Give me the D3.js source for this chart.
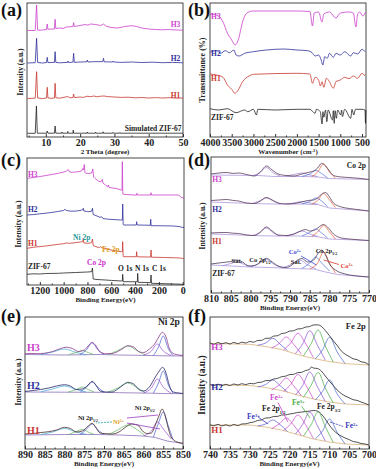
<!DOCTYPE html>
<html>
<head>
<meta charset="utf-8">
<script src="https://cdn.jsdelivr.net/npm/d3@7"></script>
<style>
  body { margin: 0; background: #fff; }
  svg { display: block; }
  text { font-family: "Liberation Serif", "DejaVu Serif", serif; font-weight: bold; }
</style>
</head>
<body>
<div id="chart"></div>
<script>
// ---- tick labels ----
const xrdTicks = [10, 20, 30, 40, 50];
const ftirTicks = [4000, 3500, 3000, 2500, 2000, 1500, 1000, 500];
const surveyTicks = [1200, 1000, 800, 600, 400, 200, 0];
const co2pTicks = [810, 805, 800, 795, 790, 785, 780, 775, 770];
const ni2pTicks = [890, 885, 880, 875, 870, 865, 860, 855, 850];
const fe2pTicks = [740, 735, 730, 725, 720, 715, 710, 705, 700];

// ---- (a) XRD, [2theta, intensity a.u.] ----
const xrdSim = [[4.6,3.7],[6.9,3.7],[7.25,31],[7.5,3.8],[10.2,3.8],[10.4,6],[10.6,3.8],[12.5,3.8],[12.7,11],[12.9,3.8],[14.6,3.8],[14.7,5],[14.8,3.8],[16.3,3.8],[16.4,5.5],[16.5,3.8],[17.9,3.8],[18.0,7],[18.1,3.8],[22.0,3.8],[22.1,5],[22.2,3.8],[24.4,3.8],[24.5,4.8],[24.6,3.8],[26.6,3.8],[26.7,5.2],[26.8,3.8],[29.5,3.8],[29.6,4.6],[29.7,3.8],[31.5,3.8],[31.6,4.5],[31.7,3.8],[50,3.8]];
const xrdH1 = [[4.6,38.5],[6.9,38.8],[7.3,65.3],[7.6,39],[9,38.4],[10.2,39],[10.4,49.7],[10.6,39.2],[11.5,38.7],[12.5,39],[12.7,53.7],[12.9,39.3],[14,38.8],[15,39.5],[16.4,40.5],[17,39.2],[17.9,39.5],[18.1,43],[18.3,39.4],[20,40],[21,39.6],[22,40.8],[23,40.3],[24,41],[25,40.2],[26,40.8],[27,41],[28,40.4],[30,40],[32,39.6],[34,39.8],[36,39.2],[38,39.5],[40,39],[42,39.4],[44,39],[46,39.3],[48,38.9],[50,39]];
const xrdH2 = [[4.6,74],[6.9,74.3],[7.3,98.7],[7.6,74.5],[9,74],[10.2,74.5],[10.4,79.7],[10.6,74.4],[12.5,74.6],[12.7,85.3],[12.9,74.6],[14,74.2],[16.3,74.6],[16.4,76],[16.6,74.5],[17.9,74.8],[18.1,83.7],[18.3,74.6],[20,75],[22,75.2],[22.1,77],[22.3,75],[24,75.3],[26.6,75.4],[26.8,78.7],[27,75.2],[29.5,75],[29.6,76],[29.8,75],[32,74.6],[35,75],[38,74.5],[41,74.8],[44,74.3],[47,74.6],[50,74.2]];
const xrdH3 = [[4.6,106.5],[6.9,106.5],[7.3,132],[7.6,106.8],[9,107],[10.2,107.5],[10.4,113],[10.6,107.8],[12.5,108],[12.7,117.7],[12.9,108.5],[14,109],[15,108.5],[16,110],[17.9,110.5],[18.1,114.3],[18.3,110.5],[20,111.5],[21.5,112.5],[22.3,111.8],[23,113],[24.5,112.5],[26,111.5],[26.8,113],[27.5,111],[29,109.5],[31,109],[33,110.5],[35,111.3],[36.5,110.5],[38,109],[40,108],[42,107.5],[44,107.2],[46,107.5],[48,107],[50,106.8]];

// ---- (b) FTIR, [wavenumber, transmittance a.u.] ----
const ftirH3 = [[4000,123],[3800,121],[3700,115],[3600,104],[3500,97],[3420,92],[3350,97],[3250,115],[3150,124],[3000,126],[2000,126],[1700,125.5],[1640,111],[1600,124],[1500,125],[1420,115],[1380,123],[1250,125],[1100,119],[1000,124],[800,125],[700,124],[640,110],[600,123],[550,125],[480,121],[420,125]];
const ftirH2 = [[4000,84.7],[3850,86.3],[3750,83.7],[3650,86.3],[3550,84.3],[3450,87],[3400,82],[3330,81],[3200,83.7],[3000,85.3],[2700,87],[2300,88],[2000,87],[1750,86.3],[1650,84.3],[1580,81],[1500,82],[1440,77],[1400,72],[1360,80.3],[1300,78.7],[1250,83.7],[1160,79.7],[1100,83.7],[1000,82],[900,85.3],[760,81],[700,84.3],[600,83],[500,87.7],[430,85.3]];
const ftirH1 = [[4000,63],[3850,62],[3700,59.7],[3600,52],[3500,47.7],[3430,43.7],[3350,47],[3250,55.3],[3100,61],[3000,62.7],[2000,63.7],[1700,63],[1640,53.7],[1580,59.7],[1500,57],[1460,51],[1420,55.3],[1380,49.7],[1320,58.7],[1250,55.3],[1160,48.7],[1100,55.3],[1000,57],[900,59.7],[800,58.3],[700,61],[600,58.7],[500,63.7],[430,61]];
const ftirZif = [[4000,28.3],[3800,27],[3600,28.3],[3400,24.3],[3200,27],[3130,25.3],[3000,27.7],[2930,22],[2900,27.7],[2500,27],[2000,27.7],[1700,27.7],[1580,23.7],[1550,27.7],[1460,25.3],[1420,13],[1400,25.3],[1380,19.7],[1340,27],[1310,15.3],[1280,27],[1180,17],[1160,26.3],[1140,13.7],[1120,26.3],[1090,18.7],[1060,27],[990,22],[970,27],[950,20.3],[900,27.7],[760,18.7],[730,27.7],[690,22],[650,27.7],[500,27.7],[430,27],[420,13.7],[412,27]];

// ---- (c) XPS survey, [binding energy, intensity a.u.] ----
const surveyH3 = [[1308,106.7],[1250,107.5],[1200,108.5],[1157,109.3],[1100,110.5],[1045,111.7],[1000,113],[975,114],[961,115.5],[950,113],[933,112.7],[900,113],[877,113.3],[850,114],[840,116.5],[833,115],[827,120.5],[822,113],[815,111.7],[790,111.5],[765,112],[755,116],[748,108],[737,106.7],[715,104.5],[695,103.3],[685,103.5],[676,105.5],[670,102],[650,100],[630,98.3],[625,100],[618,97.5],[590,97],[569,96.7],[540,96],[518,95],[510,95],[507,123.3],[503,91],[496,90.7],[450,90.3],[401,90],[386,90],[384,91.7],[381,90],[300,90],[268,90],[266,92.3],[263,90],[150,90],[60,90],[37,90],[20,88.5],[8,87.3],[-11,87]];
const surveyH2 = [[1308,70],[1250,70.5],[1200,71.2],[1115,72.3],[1050,73.5],[1000,74.5],[989,75.7],[975,74.5],[940,73.8],[891,74],[850,74.8],[840,75.3],[835,76.7],[830,74],[800,73.5],[793,73.3],[765,73.8],[758,76.7],[752,70.5],[720,69],[695,67.7],[680,68.2],[670,66.5],[640,66],[611,65.7],[560,65.3],[521,65],[507,65],[504,81],[500,60.5],[493,60],[450,60],[390,60],[387,63.3],[383,60],[300,59.8],[272,59.7],[269,65.7],[265,59.3],[150,59.2],[79,59],[30,58.5],[8,57.7],[-11,57.5]];
const surveyH1 = [[1308,36.7],[1250,37.8],[1150,39],[1045,40.7],[1000,41.3],[975,42],[950,41.7],[905,42.3],[860,43],[840,43.5],[835,46.7],[830,42],[800,41.7],[775,42],[765,42.5],[758,46],[751,39.3],[720,38],[700,37.5],[690,38.5],[680,37.2],[653,36.7],[620,35.5],[580,34.5],[540,33.7],[513,33.3],[507,33.3],[504,43.3],[500,28.5],[496,28.3],[450,28.3],[390,28.3],[387,33.3],[383,28.2],[300,28],[270,28],[266,35],[262,27.8],[150,27.5],[60,27.2],[20,27],[8,26.7],[-11,26.5]];
const surveyZif = [[1308,10.7],[1250,11.2],[1200,11],[1150,11.5],[1045,11.7],[1000,12],[900,12.5],[800,13],[765,13.3],[758,17],[752,6],[720,5.5],[650,5],[600,4.6],[513,4],[507,4],[504,10.7],[500,3.3],[450,3.3],[381,3.2],[378,11.7],[374,2.7],[300,2.5],[270,2.3],[266,10],[262,1.7],[150,1.3],[60,1],[8,0.7],[-11,0.5]];

// ---- (d) Co 2p ----
const coH3Raw = [[810,119],[808,120],[806,120.5],[804.5,119.6],[803,120],[801,118.5],[799,117],[797.5,121],[796,127],[794.5,123],[793,119],[791,117.5],[789,117],[787,119],[785.5,120.5],[784,122],[783,125],[782,129.7],[781,127],[780,122],[779,117.5],[777,116],[775,115.5],[772,114.5],[770,113.5]];
const coH3Bg = [[810,118],[798,117.5],[794,116.5],[786,116.5],[783,116],[780,114.5],[770,113.5]];
const coH3Comps = [
  [[799.5,117.2],[797.8,120],[796,125.5],[794.2,120],[792.5,117]],
  [[791,117],[789,118.5],[787,120],[785,118],[783,116.5]],
  [[787,116.6],[785,119],[783.5,122.5],[782,119.5],[780.5,115]],
  [[784.5,116.3],[783,121],[781.5,129],[780,121],[778.5,115]]
];
const coH2Raw = [[810,92.5],[808,93],[806,93.5],[804.5,92.6],[803,92],[801,90],[799,89.5],[797.5,92],[796,95.5],[794.5,93],[793,90],[791,89],[789,89.5],[787,91],[785.5,92.5],[784,93],[783,95],[782,99],[781,100.5],[780,96],[779,90],[777,86],[775,84.5],[772,83],[770,82]];
const coH2Bg = [[810,91],[798,89.3],[794,89],[787,89],[783,88.5],[780,85],[770,82]];
const coH2Comps = [
  [[799.5,89.5],[797.8,92],[796,95],[794.2,92],[792.5,89]],
  [[791,89],[789,90],[787,91.5],[785,90],[783,88.8]],
  [[787,89],[785,91.5],[783.5,95],[782,92],[780.5,86.5]],
  [[784.5,88.8],[783,92.5],[781.5,99.5],[780,93],[778.5,85.5]]
];
const coH1Raw = [[810,60],[808,60.4],[806,60.5],[804.5,59.8],[803,59.5],[801,58],[799,57.5],[797.5,61],[796,66],[794.5,62],[793,58],[791,57.5],[789,59],[787,62.5],[786,63.5],[785,62],[784,62.5],[783,65],[781.5,68.5],[780.5,66],[779,59],[777,55],[775,54],[772,53],[770,52.5]];
const coH1Bg = [[810,59],[798,57.3],[794,57],[788,57],[783,56.3],[780,54],[770,52.5]];
const coH1Comps = [
  [[799.5,57.4],[797.8,60],[796,65],[794.2,60],[792.5,57]],
  [[791,57],[789,59],[787,62],[785,59],[783,56.5]],
  [[787,57],[785,60.5],[783.5,64],[782,60],[780.5,55]],
  [[784.5,56.7],[783,61],[781.5,67.5],[780,61],[778.5,54]]
];
const coZifRaw = [[810,29],[807,30.5],[805,31.5],[803.5,33],[802,31],[800.5,27],[799,27.5],[797.5,31],[796,34.7],[794.5,31],[793,27],[791,25.5],[789.5,28],[788,33],[787,34.5],[785.5,31],[784,33],[783,39],[782,43],[781,38],[780,29],[778.5,23],[776,19],[773,17],[770,16]];
const coZifBg = [[810,28],[800,26],[795,25.5],[790,24.5],[784,24],[781,21],[778,18.5],[770,16]];
const coZifComps = [
  [[807,27.3],[805,29.5],[803.5,31],[801.5,28.5],[799.5,26.2]],
  [[800,26.3],[798,29],[796,33.5],[794,28.5],[792,25.3]],
  [[792,25],[790,28],[787.5,33],[785.5,28],[783.5,24.2]],
  [[787,24.5],[785,30],[783.5,36],[782,30],[780,22]],
  [[785,24],[783,30],[781.5,41],[780,30],[778.5,20]]
];
const coCompColors = ['#9b7fd4', '#9b7fd4', '#4a6fd8', '#e0603a'];
const coZifCompColors = ['#9b7fd4', '#9b7fd4', '#9b7fd4', '#4a6fd8', '#e0603a'];

// ---- (e) Ni 2p ----
const niH3Raw = [[890,95],[888.5,95.6],[887,95.3],[885,95.8],[883,97.5],[881,100.5],[879.5,101.8],[878,100.5],[876.5,97.5],[875,99],[874,103],[873,106.7],[872,103],[871,97],[869.5,95.3],[868,95.5],[866.5,97.5],[865,101],[864,103.3],[862.5,102],[861,97],[860,96.5],[858.5,100],[857,106],[856,113],[855.2,116.7],[854.3,112],[853.5,101],[852.5,95.5],[851,94],[850,93.5]];
const niH3Bg = [[890,94.5],[880,94],[871,94.5],[866,94],[858,93.5],[855,93.2],[850,93]];
const niH3Comps = [
  [[886,94.5],[883,97],[880,100],[877,96.5],[874.5,94.2]],
  [[879,94.3],[877,96.5],[875.5,98.5],[874,96.5],[872.5,94.3]],
  [[876,94.5],[874.5,99],[873,106],[871.5,99],[870,94.5]],
  [[869,94.2],[866.5,98.5],[864,103],[861.5,98],[859.5,93.8]],
  [[860,93.8],[858,98],[856.5,105],[855,98],[853,93.5]],
  [[857.5,93.5],[856.2,102],[855,113],[853.8,101],[852.5,93.3]]
];
const niH2Raw = [[890,57.5],[888,58.5],[886,59.5],[884,61],[882,63],[880,64.3],[878.5,63],[877,59.5],[875.5,60],[874,64],[873,67.7],[872,63.5],[871,58],[869.5,57],[868,57],[866.5,60],[865,64.5],[864,66.7],[862.5,65],[861,59],[860,58],[858.5,62],[857,72],[856,78],[855.2,81.7],[854.3,76],[853.5,64],[852.5,57],[851,56],[850,55.5]];
const niH2Bg = [[890,57],[880,56.8],[871,56.7],[866,56.3],[858,55.8],[855,55.5],[850,55.3]];
const niH2Comps = [
  [[886,57.3],[883,60],[880,63],[877,59.5],[874.5,57]],
  [[879,57],[877,59.5],[875.5,62],[874,59.5],[872.5,57]],
  [[876,57],[874.5,61.5],[873,67],[871.5,61.5],[870,56.8]],
  [[869,56.7],[866.5,61],[864,66],[861.5,61],[859.5,56.2]],
  [[860,56],[858,61],[856.5,70],[855,62],[853,55.7]],
  [[857.5,55.9],[856.2,66],[855,78],[853.8,65],[852.5,55.6]]
];
const niH1Raw = [[890,15],[888,15.5],[886,16.5],[884,17.3],[882,19],[880,21.7],[878.5,20.5],[877,17],[875.5,18],[874,23],[873,25.7],[872,21],[871,16],[869.5,15.3],[868,15],[866,17.5],[864.5,22],[863,25],[861.5,24],[860,17],[859,15.5],[858,16],[857,24],[856,34],[855.3,40],[854.5,33],[853.8,22],[853,12],[851.5,7],[850,5.7]];
const niH1Bg = [[890,14],[880,14.5],[872,14.5],[866,14],[860,13],[857,11.5],[854,8],[850,5.5]];
const niH1Comps = [
  [[886,14.5],[883,17],[880,20.5],[877,17],[874.5,14.6]],
  [[879,14.5],[877,17.5],[875.5,19.5],[874,17],[872.5,14.5]],
  [[876,14.6],[874.5,19.5],[873,25],[871.5,19],[870,14.4]],
  [[869,14.2],[866.5,19],[864,24],[861.5,19],[859.5,13]],
  [[860,13],[858,18],[856.5,27],[855,20],[853,10]],
  [[857.5,12],[856.2,26],[855,37],[853.8,24],[852.5,9]]
];
const niCompColors = ['#3fa7d6', '#5cb85c', '#4b5bd0', '#5cb85c', '#9b4fd0', '#4b5bd0'];

// ---- (f) Fe 2p ----
const feH3Raw = [[740,106],[739,104.8],[738,106.5],[737,105.2],[736,106.3],[735,105],[734,106.6],[733,105.3],[732,106.8],[731,106],[730,107.5],[729,106.8],[728,108.5],[727,108.7],[726,110.6],[725,110.8],[724,112.9],[723,113.3],[722,115.4],[721,116],[720,117.9],[719,118.2],[718,120],[717,120.3],[716,121.9],[715,122.4],[714,124],[713,124.2],[712,122.8],[711,118.5],[710,113.6],[709,108.4],[708,103.5],[707,98.2],[706,94.8],[705,92.6],[704,90.2],[703,89.4],[702,87.2],[701,86.5],[700,84]];
const feH3Bg = [[740,105.5],[730,104.7],[726,102.5],[722,99.5],[718,94.5],[714,90.5],[710,87.5],[706,85.3],[700,84]];
const feH3Comps = [
  [[728,103.8],[726,106],[724.2,110.7],[722.4,105],[720.5,98.5]],
  [[724.5,100.8],[722.6,105.5],[720.8,112],[719,105],[717,94.8]],
  [[721.5,99],[719.7,106],[717.9,115.7],[716,106],[714,91.3]],
  [[718.5,95.5],[716.7,105],[714.9,118.3],[713,104],[711,89]],
  [[716.5,93],[714.6,105],[712.8,119],[711,103],[709,87]],
  [[713.5,90.2],[711.7,99],[709.9,111.7],[708,97],[706,85.4]]
];
const feH2Raw = [[740,64.5],[739,63.4],[738,64.8],[737,63.6],[736,64.7],[735,63.5],[734,65],[733,64],[732,65.3],[731,64.4],[730,65.6],[729,65.2],[728,66.5],[727,66.8],[726,68.4],[725,68.5],[724,70],[723,70.6],[722,72.3],[721,72.8],[720,74.4],[719,74.6],[718,76.3],[717,76.6],[716,78.4],[715,79.5],[714.5,82],[714,81],[713,80.5],[712,78],[711,73],[710,68],[709,63.5],[708,59],[707,55.5],[706,53],[705,51.2],[704,49.3],[703,48.6],[702,47],[701,45.6],[700,44]];
const feH2Bg = [[740,64],[730,63.5],[726,61.5],[722,58.5],[718,54],[714,50],[710,47],[706,45],[700,44]];
const feH2Comps = [
  [[728,62],[726,64.5],[724.2,69],[722.4,63.5],[720.5,57]],
  [[724.5,59],[722.6,64],[720.8,71],[719,63.5],[717,53]],
  [[721.5,57.5],[719.7,64.5],[717.9,74.5],[716,64.5],[714,50]],
  [[718.5,54],[716.7,63.5],[714.9,77],[713,62.5],[711,47.5]],
  [[716.5,51.5],[714.6,63.5],[712.8,76.5],[711,61],[709,46]],
  [[713.5,49],[711.7,57.5],[709.9,69],[708,55],[706,45]]
];
const feH1Raw = [[740,24.3],[739,23.2],[738,24.6],[737,23.1],[736,24.2],[735,23],[734,24.5],[733,23.4],[732,25],[731,25.2],[730,26.3],[729,27],[728,28.5],[727,29.1],[726,31],[725,31.2],[724,32.5],[723,32.6],[722,34],[721,34.1],[720,35],[719,35.6],[718,36.5],[717,36.9],[716,37.5],[715,37.9],[714,38.5],[713,38],[712,35],[711,30],[710,24],[709,19],[708,15.5],[707,13],[706,11],[705,9.4],[704,7.5],[703,6.8],[702,5.5],[701,5],[700,4]];
const feH1Bg = [[740,24],[730,24],[726,22],[722,19],[718,14.5],[714,10],[710,7],[706,5],[700,4]];
const feH1Comps = [
  [[728,23],[726,25],[724.2,29],[722.4,24.5],[720.5,17.5]],
  [[724.5,20.3],[722.6,25],[720.8,31],[719,24],[717,13.5]],
  [[721.5,18.5],[719.7,25],[717.9,34],[716,24.5],[714,10.3]],
  [[718.5,15],[716.7,24.5],[714.9,37],[713,23.5],[711,8]],
  [[716.5,13],[714.6,24],[712.8,37],[711,22.5],[709,6.5]],
  [[713.5,10],[711.7,18],[709.9,30],[708,16.5],[706,5]]
];
const feCompColors = ['#5a5ad0', '#cc44cc', '#cc44cc', '#8a4fd0', '#44aa44', '#4466cc'];

// ---- colours ----
const magenta = '#cc3fcc', blue = '#2e2e9a', red = '#c8372f', dark = '#222';

const svg = d3.select('#chart').append('svg')
    .attr('width', 376)
    .attr('height', 469);

function makePanel(o) {
    const g = svg.append('g');
    const x = d3.scaleLinear().domain(o.xDomain).range([o.left, o.right]);
    const y = d3.scaleLinear().domain([0, o.bottom - o.top]).range([o.bottom, o.top]);

    const lo = Math.min(o.xDomain[0], o.xDomain[1]), hi = Math.max(o.xDomain[0], o.xDomain[1]);
    const minor = d3.range(Math.ceil(lo / o.minorStep) * o.minorStep, hi + 1e-9, o.minorStep)
        .filter(v => o.ticks.indexOf(v) < 0);

    // ticks point into the frame
    g.append('g')
        .attr('transform', 'translate(0,' + o.bottom + ')')
        .call(d3.axisBottom(x).tickValues(minor).tickSize(-1.5).tickFormat(''))
        .call(a => a.select('.domain').remove())
        .call(a => a.selectAll('line').attr('stroke', '#333'));

    g.append('g')
        .attr('transform', 'translate(0,' + o.bottom + ')')
        .attr('font-size', 7.2)
        .call(d3.axisBottom(x).tickValues(o.ticks).tickSize(-3).tickPadding(2).tickFormat(d3.format('d')))
        .call(a => a.select('.domain').remove())
        .call(a => a.selectAll('line').attr('stroke', '#333'))
        .call(a => a.selectAll('text').attr('fill', '#222'));

    g.append('rect')
        .attr('x', o.left)
        .attr('y', o.top)
        .attr('width', o.right - o.left)
        .attr('height', o.bottom - o.top)
        .attr('fill', 'none')
        .attr('stroke', '#333')
        .attr('stroke-width', 0.9);

    const plot = g.append('g');

    if (o.xTitle) {
        g.append('text')
            .attr('x', (o.left + o.right) / 2)
            .attr('y', o.titleY)
            .attr('text-anchor', 'middle')
            .attr('font-size', 7)
            .attr('fill', '#222')
            .text(o.xTitle);
    }

    g.append('text')
        .attr('transform', 'translate(' + o.yTitleX + ',' + o.yTitleMid + ') rotate(-90)')
        .attr('text-anchor', 'middle')
        .attr('font-size', o.yTitleSize || 7.5)
        .attr('fill', '#222')
        .text(o.yTitle);

    svg.append('text')
        .attr('x', o.tagX)
        .attr('y', o.tagY)
        .attr('font-size', 18)
        .attr('fill', '#111')
        .text(o.tag);

    return { g: plot, x: x, y: y, frame: g };
}

function drawLine(p, data, color, width, curve) {
    p.g.append('path')
        .datum(data)
        .attr('fill', 'none')
        .attr('stroke', color)
        .attr('stroke-width', width)
        .attr('stroke-linejoin', 'round')
        .attr('d', d3.line()
            .x(d => p.x(d[0]))
            .y(d => p.y(d[1]))
            .curve(curve || d3.curveLinear));
}

function label(p, xv, yv, parts, color, size, anchor) {
    const t = p.g.append('text')
        .attr('x', p.x(xv))
        .attr('y', p.y(yv))
        .attr('fill', color)
        .attr('font-size', size)
        .attr('text-anchor', anchor || 'start');
    parts.forEach(q => {
        const s = t.append('tspan').text(q[0]);
        if (q[1] === 'sub') s.attr('baseline-shift', 'sub').attr('font-size', size * 0.6);
        if (q[1] === 'sup') s.attr('baseline-shift', 'super').attr('font-size', size * 0.6);
    });
}

function pointer(p, x1, y1, x2, y2, color, dash) {
    p.g.append('line')
        .attr('x1', p.x(x1)).attr('y1', p.y(y1))
        .attr('x2', p.x(x2)).attr('y2', p.y(y2))
        .attr('stroke', color)
        .attr('stroke-width', 0.8)
        .attr('stroke-dasharray', dash || null);
}

function xpsSeries(p, raw, bg, comps, colors, rawColor, bgColor) {
    drawLine(p, bg, bgColor, 0.7);
    comps.forEach((c, i) => drawLine(p, c, colors[i], 0.7, d3.curveMonotoneX));
    drawLine(p, raw, rawColor, 0.8, d3.curveMonotoneX);
}

// (a) XRD
const pa = makePanel({ left: 27, right: 183, top: 3, bottom: 137, xDomain: [4.5, 50], ticks: xrdTicks, minorStep: 5,
    xTitle: '2 Theta (degree)', titleY: 153.5, yTitle: 'Intensity (a.u.)', yTitleX: 23, yTitleMid: 72,
    tag: '(a)', tagX: 1, tagY: 16 });
drawLine(pa, xrdSim, dark, 0.8);
drawLine(pa, xrdH1, red, 0.8);
drawLine(pa, xrdH2, blue, 0.8);
drawLine(pa, xrdH3, magenta, 0.8);
label(pa, 49.2, 110.5, [['H3']], magenta, 7.5, 'end');
label(pa, 49.2, 76, [['H2']], blue, 7.5, 'end');
label(pa, 49.2, 39.5, [['H1']], red, 7.5, 'end');
label(pa, 49.6, 6.5, [['Simulated ZIF-67']], dark, 7.5, 'end');

// (b) FTIR
const pb = makePanel({ left: 210, right: 366, top: 3, bottom: 137, xDomain: [4000, 408], ticks: ftirTicks, minorStep: 250,
    xTitle: '', titleY: 153.5, yTitle: 'Transmittance (%)', yTitleX: 205, yTitleMid: 70, yTitleSize: 8,
    tag: '(b)', tagX: 188, tagY: 16 });
pb.frame.append('text')
    .attr('x', 288).attr('y', 153.5).attr('text-anchor', 'middle').attr('font-size', 7).attr('fill', '#222')
    .call(t => {
        t.append('tspan').text('Wavenumber (cm');
        t.append('tspan').attr('baseline-shift', 'super').attr('font-size', 4.5).text('-1');
        t.append('tspan').text(')');
    });
drawLine(pb, ftirZif, dark, 0.8, d3.curveMonotoneX);
drawLine(pb, ftirH1, red, 0.8, d3.curveMonotoneX);
drawLine(pb, ftirH2, blue, 0.8, d3.curveMonotoneX);
drawLine(pb, ftirH3, magenta, 0.8, d3.curveMonotoneX);
label(pb, 3975, 118, [['H3']], magenta, 7.5);
label(pb, 3975, 81, [['H2']], blue, 7.5);
label(pb, 3975, 56, [['H1']], red, 7.5);
label(pb, 3975, 17, [['ZIF-67']], dark, 7.5);

// (c) survey
const pc = makePanel({ left: 27, right: 184, top: 158, bottom: 285, xDomain: [1308, -11], ticks: surveyTicks, minorStep: 100,
    xTitle: 'Binding Energy(eV)', titleY: 302, yTitle: 'Intensity (a.u.)', yTitleX: 21, yTitleMid: 224,
    tag: '(c)', tagX: 1, tagY: 166 });
drawLine(pc, surveyZif, dark, 0.8);
drawLine(pc, surveyH1, red, 0.8);
drawLine(pc, surveyH2, blue, 0.8);
drawLine(pc, surveyH3, magenta, 0.8);
label(pc, 1300, 108, [['H3']], magenta, 7.5);
label(pc, 1300, 73, [['H2']], blue, 7.5);
label(pc, 1300, 39, [['H1']], red, 7.5);
label(pc, 1300, 16, [['ZIF-67']], dark, 7.5);
label(pc, 921, 45, [['Ni 2p']], '#2a9a9a', 7.5);
label(pc, 678, 33, [['Fe 2p']], '#e0a020', 7.5);
label(pc, 804, 20, [['Co 2p']], '#d030d0', 7.5);
label(pc, 544, 14.5, [['O 1s']], dark, 7.5);
label(pc, 401, 14.5, [['N 1s']], dark, 7.5);
label(pc, 258, 14.5, [['C 1s']], dark, 7.5);

// (d) Co 2p
const pd = makePanel({ left: 211, right: 369, top: 157, bottom: 293, xDomain: [810, 770], ticks: co2pTicks, minorStep: 2.5,
    xTitle: 'Binding Energy(eV)', titleY: 309.5, yTitle: 'Intensity (a.u.)', yTitleX: 205, yTitleMid: 226,
    tag: '(d)', tagX: 188, tagY: 166 });
xpsSeries(pd, coZifRaw, coZifBg, coZifComps, coZifCompColors, '#4a3a5a', '#a28ad8');
xpsSeries(pd, coH1Raw, coH1Bg, coH1Comps, coCompColors, '#5a3a5a', '#a28ad8');
xpsSeries(pd, coH2Raw, coH2Bg, coH2Comps, coCompColors, '#5a3a5a', '#a28ad8');
xpsSeries(pd, coH3Raw, coH3Bg, coH3Comps, coCompColors, '#5a3a5a', '#a28ad8');
label(pd, 770.8, 125, [['Co 2p']], dark, 7.5, 'end');
label(pd, 809.7, 111, [['H3']], magenta, 7.5);
label(pd, 809.7, 81, [['H2']], blue, 7.5);
label(pd, 809.7, 49, [['H1']], red, 7.5);
label(pd, 809.7, 17, [['ZIF-67']], dark, 7.5);
label(pd, 804.8, 30, [['Sat.']], dark, 6.5);
label(pd, 800.3, 31, [['Co 2p'], ['1/2', 'sub']], dark, 6.5);
label(pd, 790.3, 39, [['Co'], ['2+', 'sup']], '#3a4ad0', 6.5);
label(pd, 789.8, 29.5, [['Sat.']], dark, 6.5);
label(pd, 783.5, 40, [['Co 2p'], ['3/2', 'sub']], dark, 6.5);
label(pd, 777.2, 25.5, [['Co'], ['3+', 'sup']], '#d83a30', 6.5);
pointer(pd, 781.5, 33, 777.6, 28.5, '#d83a30');
pointer(pd, 787.2, 37, 783.3, 28, '#3a4ad0');

// (e) Ni 2p
const pe = makePanel({ left: 25, right: 183, top: 317, bottom: 449, xDomain: [890, 850], ticks: ni2pTicks, minorStep: 2.5,
    xTitle: 'Binding Energy(eV)', titleY: 466, yTitle: 'Intensity (a.u.)', yTitleX: 21, yTitleMid: 382,
    tag: '(e)', tagX: 1, tagY: 322 });
xpsSeries(pe, niH1Raw, niH1Bg, niH1Comps, niCompColors, '#4a2a2a', '#7a5ab0');
xpsSeries(pe, niH2Raw, niH2Bg, niH2Comps, niCompColors, '#2a2a6a', '#7a5ab0');
xpsSeries(pe, niH3Raw, niH3Bg, niH3Comps, niCompColors, '#8a3a8a', '#7a5ab0');
label(pe, 850.8, 124, [['Ni 2p']], dark, 9.5, 'end');
label(pe, 889.5, 98, [['H3']], magenta, 10);
label(pe, 889.5, 60, [['H2']], blue, 10);
label(pe, 889.5, 15, [['H1']], red, 10);
label(pe, 876.6, 29, [['Ni 2p'], ['1/2', 'sub']], dark, 6.5);
label(pe, 867.7, 25, [['Ni'], ['2+', 'sup']], '#e0a020', 6.5);
label(pe, 862.2, 39, [['Ni 2p'], ['3/2', 'sub']], dark, 6.5);
pointer(pe, 868, 27, 872, 26, '#2aa0a0', '2,1');
pointer(pe, 864.2, 31, 856.3, 34, '#9b3fc0');
pointer(pe, 864.2, 26, 855.8, 20, '#9b3fc0');

// (f) Fe 2p
const pf = makePanel({ left: 210, right: 369, top: 317, bottom: 449, xDomain: [740, 700], ticks: fe2pTicks, minorStep: 2.5,
    xTitle: 'Binding Energy(eV)', titleY: 466, yTitle: 'Intensity (a.u.)', yTitleX: 205, yTitleMid: 385, yTitleSize: 9.5,
    tag: '(f)', tagX: 188, tagY: 322 });
xpsSeries(pf, feH1Raw, feH1Bg, feH1Comps, feCompColors, '#222', '#d4a86a');
xpsSeries(pf, feH2Raw, feH2Bg, feH2Comps, feCompColors, '#222', '#d4a86a');
xpsSeries(pf, feH3Raw, feH3Bg, feH3Comps, feCompColors, '#222', '#d4a86a');
label(pf, 700.8, 120, [['Fe 2p']], dark, 8.5, 'end');
label(pf, 739.7, 99, [['H3']], magenta, 9);
label(pf, 739.7, 59, [['H2']], blue, 9);
label(pf, 739.7, 16, [['H1']], red, 9);
label(pf, 730.7, 30, [['Fe'], ['3+', 'sup']], '#3a3ac0', 7.5);
label(pf, 726.9, 38, [['Fe 2p'], ['1/2', 'sub']], dark, 7.5);
label(pf, 724.9, 49, [['Fe'], ['2+', 'sup']], '#cc44cc', 7.5);
label(pf, 719.4, 44, [['Fe'], ['3+', 'sup']], '#44aa44', 7.5);
label(pf, 713.1, 40, [['Fe 2p'], ['3/2', 'sub']], dark, 7.5);
label(pf, 706, 21, [['Fe'], ['2+', 'sup']], '#3a3ac0', 7.5);
pointer(pf, 722.9, 46.5, 720.4, 27, '#cc44cc');
pointer(pf, 716.9, 42.5, 714.8, 31, '#44aa44');
pointer(pf, 727.9, 32, 725.4, 25, '#3a3ac0');
pointer(pf, 709.8, 27, 706.5, 22.5, '#3a3ac0', '2,1');
</script>
</body>
</html>
